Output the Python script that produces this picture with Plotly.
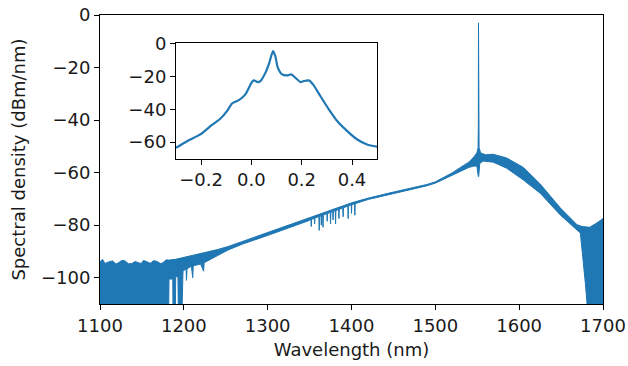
import plotly.graph_objects as go

# ---- main spectrum: upper and lower edges of the (dense, noisy) trace ----
wl_upper = [1100, 1103, 1106, 1110, 1115, 1119, 1122, 1126, 1130, 1134, 1138, 1142, 1145,
            1149, 1152, 1156, 1160, 1164, 1168, 1172, 1175, 1179,
            1182, 1190, 1200, 1210, 1225, 1240, 1253, 1270, 1300, 1330, 1350,
            1370, 1400, 1420, 1446, 1470, 1490, 1500, 1510, 1520, 1530, 1540, 1546, 1549.5,
            1551.0, 1551.3, 1551.5, 1551.7, 1552.2, 1554, 1560, 1569, 1585, 1605, 1625, 1649,
            1669, 1675, 1684, 1692, 1698, 1700]
db_upper = [-94.0, -93.0, -94.6, -94.0, -93.6, -94.8, -94.3, -93.4, -93.6, -94.7, -94.6, -93.8, -94.2,
            -94.6, -93.4, -94.1, -94.5, -93.5, -93.8, -94.6, -94.3, -93.2,
            -93.3, -93.0, -92.3, -91.5, -90.3, -89.3, -88.1, -86.2, -83.0, -79.6, -77.2,
            -74.9, -71.5, -69.7, -67.7, -66.0, -64.5, -63.5, -61.9, -60.1, -58.0, -56.0, -54.0, -52.5,
            -50.5, -42.0, -3.0, -42.0, -50.5, -52.5, -53.2, -53.0, -54.4, -58.0, -64.3, -73.4,
            -79.8, -80.5, -80.8, -79.3, -77.8, -77.5]

wl_lower = [1100, 1182, 1182.3, 1186.8, 1187, 1190, 1190.3, 1193, 1193.3, 1198, 1199,
            1202.6, 1203.2, 1203.8, 1209, 1210.6, 1211.2, 1211.8, 1220, 1223.6, 1224.2, 1224.8,
            1227, 1240, 1253, 1270, 1300, 1330, 1348,
            1351.6, 1352.0, 1352.4, 1355.6, 1356.0, 1356.4, 1361.1, 1361.5, 1361.9,
            1363.6, 1364.0, 1364.4, 1365.6, 1366.0, 1366.4, 1370.6, 1371.0, 1371.4,
            1374.6, 1375.0, 1375.4, 1377.6, 1378.0, 1378.4, 1380.6, 1381.0, 1381.4,
            1384.6, 1385.0, 1385.4, 1389.6, 1390.0, 1390.4, 1395.6, 1396.0, 1396.4,
            1399.6, 1400.0, 1400.4, 1403.6, 1404.0, 1404.4,
            1420, 1446, 1470, 1490, 1500, 1510,
            1520, 1530, 1540, 1546, 1549.5, 1551.3, 1551.5, 1551.7, 1553, 1557, 1569, 1585, 1605,
            1625, 1649, 1669, 1673, 1675, 1677, 1679, 1681, 1700]
db_lower = [-110, -110, -100.5, -100.5, -110, -110, -99.6, -99.6, -110, -110, -97.5,
            -96.6, -101.0, -96.6, -95.6, -100.0, -95.8, -95.4, -94.8, -97.5, -94.4, -94.2,
            -93.6, -91.6, -89.4, -87.2, -83.9, -80.5, -78.4,
            -77.8, -80.5, -77.8, -77.3, -79.5, -77.3, -76.7, -82.0, -76.7,
            -76.4, -80.0, -76.4, -76.2, -80.8, -76.2, -75.6, -78.5, -75.6,
            -75.1, -79.5, -75.1, -74.8, -78.0, -74.8, -74.4, -79.5, -74.4,
            -74.0, -77.5, -74.0, -73.4, -76.8, -73.4, -72.7, -77.5, -72.7,
            -72.2, -75.5, -72.2, -71.8, -76.2, -71.8,
            -70.2, -68.2, -66.5, -65.0, -64.0, -62.5,
            -61.1, -59.4, -58.0, -57.5, -57.5, -61.5, -61.5, -61.5, -56.5, -55.6, -56.0, -58.3, -62.8,
            -67.8, -76.1, -81.8, -83.0, -89.4, -97.0, -102.3, -110, -110]

# ---- inset: zoom on the pump line ----
inset_x = [-0.300, -0.256, -0.203, -0.163, -0.124, -0.097, -0.077, -0.050, -0.024, 0.000,
           0.009, 0.025, 0.036, 0.056, 0.071, 0.086, 0.095, 0.105, 0.122, 0.142, 0.158,
           0.175, 0.195, 0.208, 0.228, 0.245, 0.274, 0.308, 0.341, 0.381, 0.421, 0.460, 0.500]
inset_y = [-63.4, -59.4, -55.3, -50.3, -45.8, -41.2, -36.5, -34.5, -31.0, -24.0,
           -22.5, -23.5, -22.9, -17.8, -11.8, -4.7, -7.7, -14.8, -18.9, -19.5, -18.9,
           -20.9, -23.5, -22.9, -22.5, -24.9, -32.0, -40.1, -47.2, -53.3, -58.4, -61.4, -62.8]

main_xticks = [1100, 1200, 1300, 1400, 1500, 1600, 1700]
main_yticks = [0, -20, -40, -60, -80, -100]
inset_xticks = [-0.2, 0.0, 0.2, 0.4]
inset_yticks = [0, -20, -40, -60]

BLUE = "#1f77b4"
FONT = "DejaVu Sans"
FS = 18

poly_x = wl_upper + wl_lower[::-1]
poly_y = db_upper + db_lower[::-1]

fig = go.Figure()
fig.add_trace(go.Scatter(x=poly_x, y=poly_y, mode="lines", fill="toself",
                         fillcolor=BLUE, line=dict(color=BLUE, width=1),
                         xaxis="x", yaxis="y", hoverinfo="skip", showlegend=False))
fig.add_trace(go.Scatter(x=inset_x, y=inset_y, mode="lines",
                         line=dict(color=BLUE, width=2.2, shape="spline", smoothing=0.6),
                         xaxis="x2", yaxis="y2", showlegend=False))

axis_common = dict(showline=True, linecolor="black", linewidth=1, mirror=True,
                   ticks="outside", ticklen=5, tickwidth=1, tickcolor="black",
                   showgrid=False, zeroline=False, automargin=False,
                   tickfont=dict(family=FONT, size=FS, color="#1a1a1a"))

fig.update_layout(
    width=628, height=366,
    margin=dict(l=100, r=25, t=15, b=62),
    paper_bgcolor="white", plot_bgcolor="white",
    font=dict(family=FONT, size=FS, color="#1a1a1a"),
    xaxis=dict(range=[1100, 1700], tickvals=main_xticks, domain=[0, 1],
               title=dict(text="Wavelength (nm)", font=dict(family=FONT, size=FS), standoff=8),
               **axis_common),
    yaxis=dict(range=[-110, 0], tickvals=main_yticks, domain=[0, 1],
               title=dict(text="Spectral density (dBm/nm)", font=dict(family=FONT, size=FS), standoff=10),
               **axis_common),
    xaxis2=dict(range=[-0.3, 0.5], tickvals=inset_xticks, tickformat=".1f",
                domain=[0.151, 0.551], anchor="y2", **axis_common),
    yaxis2=dict(range=[-70, 0], tickvals=inset_yticks,
                domain=[0.503, 0.902], anchor="x2", **axis_common),
)

fig.write_html("out.html", config={"displayModeBar": False},
               post_script="document.body.style.margin='0px';document.body.style.overflow='hidden';")
